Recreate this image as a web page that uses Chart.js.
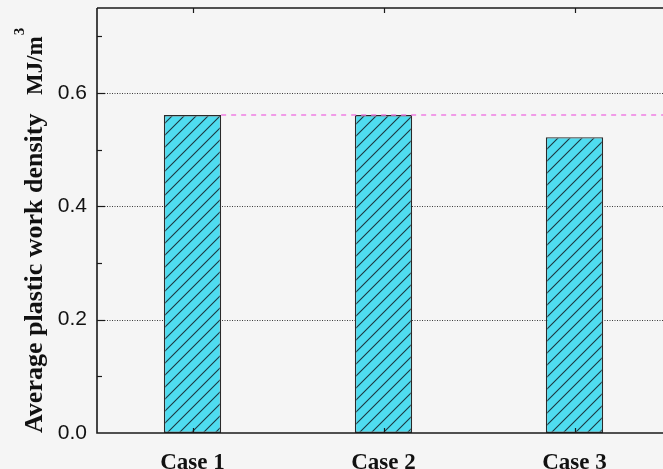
<!DOCTYPE html>
<html>
<head>
<meta charset="utf-8">
<script src="https://cdn.jsdelivr.net/npm/chart.js@4/dist/chart.umd.min.js"></script>
<style>
  html, body { margin: 0; padding: 0; background: #f5f5f5; overflow: hidden; width: 663px; height: 469px; }
  #wrap { width: 663px; height: 469px; overflow: hidden; position: relative; }
  canvas { display: block; }
</style>
</head>
<body>
<div id="wrap"><canvas id="c" width="672" height="469"></canvas></div>
<script>
// ---- data ----
const categories = ['Case 1', 'Case 2', 'Case 3'];
const values = [0.561, 0.561, 0.522];
const yTickValues = [0, 0.1, 0.2, 0.3, 0.4, 0.5, 0.6, 0.7];
const yLabelValues = [0, 0.2, 0.4, 0.6];
const yTitle = 'Average plastic work density';
const yUnit = 'MJ/m';
const yUnitSup = '3';
const refLineValue = values[0];

// hatch pattern
function makeHatch() {
  const s = 12;
  const p = document.createElement('canvas');
  p.width = s; p.height = s;
  const g = p.getContext('2d');
  g.fillStyle = '#4fdcf0';
  g.fillRect(0, 0, s, s);
  g.strokeStyle = '#1c3640';
  g.lineWidth = 1.1;
  g.beginPath();
  g.moveTo(-1, s + 1); g.lineTo(s + 1, -1);
  g.moveTo(-1, 1); g.lineTo(1, -1);
  g.moveTo(s - 1, s + 1); g.lineTo(s + 1, s - 1);
  g.stroke();
  return g.createPattern(p, 'repeat');
}

const frame = {
  id: 'frame',
  beforeDraw(chart) {
    const { ctx } = chart;
    ctx.save();
    ctx.fillStyle = '#f5f5f5';
    ctx.fillRect(0, 0, chart.width, chart.height);
    ctx.restore();
  },
  beforeDatasetsDraw(chart) {
    const { ctx, chartArea: a, scales: { y } } = chart;
    ctx.save();
    ctx.strokeStyle = '#3a3a3a';
    ctx.lineWidth = 1;
    ctx.setLineDash([1, 1.5]);
    yLabelValues.forEach(v => {
      if (v === 0) return;
      const py = Math.round(y.getPixelForValue(v)) + 0.5;
      ctx.beginPath(); ctx.moveTo(a.left, py); ctx.lineTo(a.right, py); ctx.stroke();
    });
    ctx.restore();
  },
  afterDatasetsDraw(chart) {
    const { ctx, chartArea: a, scales: { x, y } } = chart;
    ctx.save();
    const bar0 = chart.getDatasetMeta(0).data[0];
    const ry = y.getPixelForValue(refLineValue);
    ctx.strokeStyle = '#f07ee4';
    ctx.lineWidth = 1.5;
    ctx.setLineDash([5, 5]);
    ctx.beginPath();
    ctx.moveTo(bar0.x + bar0.width / 2, ry); ctx.lineTo(a.right, ry);
    ctx.stroke();
    ctx.setLineDash([]);

    ctx.strokeStyle = '#1a1a1a';
    ctx.lineWidth = 1.6;
    ctx.beginPath();
    ctx.moveTo(a.left, a.top); ctx.lineTo(a.right + 2, a.top);
    ctx.moveTo(a.left, a.top); ctx.lineTo(a.left, a.bottom);
    ctx.lineTo(a.right + 2, a.bottom);
    ctx.stroke();

    ctx.lineWidth = 1.2;
    yTickValues.forEach(v => {
      if (v === 0) return;
      const py = Math.round(y.getPixelForValue(v)) + 0.5;
      const major = yLabelValues.includes(v);
      ctx.beginPath(); ctx.moveTo(a.left, py); ctx.lineTo(a.left + (major ? 8 : 5), py); ctx.stroke();
    });
    categories.forEach((c, i) => {
      const px = Math.round(x.getPixelForValue(i)) + 0.5;
      ctx.beginPath();
      ctx.moveTo(px, a.bottom); ctx.lineTo(px, a.bottom - 5);
      ctx.moveTo(px, a.top); ctx.lineTo(px, a.top + 5);
      ctx.stroke();
    });

    ctx.fillStyle = '#111';
    ctx.translate(42, 433);
    ctx.rotate(-Math.PI / 2);
    ctx.textBaseline = 'alphabetic';
    ctx.textAlign = 'left';
    ctx.font = 'bold 26px "Liberation Serif", "Times New Roman", serif';
    ctx.fillText(yTitle, 0, 0);
    ctx.font = 'bold 23px "Liberation Serif", "Times New Roman", serif';
    const ux = 338;
    ctx.fillText(yUnit, ux, 0);
    const uw = ctx.measureText(yUnit).width;
    ctx.font = 'bold 15px "Liberation Serif", "Times New Roman", serif';
    ctx.fillText(yUnitSup, ux + uw + 1, -18);
    ctx.restore();
  }
};

const ctx = document.getElementById('c').getContext('2d');
new Chart(ctx, {
  type: 'bar',
  data: {
    labels: categories,
    datasets: [{
      data: values,
      backgroundColor: makeHatch(),
      borderColor: '#2a2a2a',
      borderWidth: 1.4,
      borderSkipped: false,
      categoryPercentage: 1,
      barPercentage: 0.3
    }]
  },
  options: {
    responsive: false,
    animation: false,
    devicePixelRatio: 1,
    layout: { padding: { top: 8, right: 2, left: 0, bottom: 0 } },
    plugins: { legend: { display: false }, tooltip: { enabled: false } },
    scales: {
      x: {
        type: 'category',
        offset: true,
        grid: { display: false, drawTicks: false },
        border: { display: false },
        ticks: {
          padding: 16,
          color: '#111',
          font: { family: '"Liberation Serif", "Times New Roman", serif', size: 23, weight: 'bold' },
          maxRotation: 0
        },
        afterFit(s) { s.height = 36; s.paddingLeft = 0; s.paddingRight = 0; }
      },
      y: {
        min: 0,
        max: 0.75,
        grid: { display: false, drawTicks: false },
        border: { display: false },
        afterBuildTicks(s) { s.ticks = yTickValues.map(v => ({ value: v })); },
        ticks: {
          padding: 10,
          color: '#111',
          font: { family: '"Liberation Sans", Arial, sans-serif', size: 21 },
          callback(v) { return yLabelValues.includes(Math.round(v * 10) / 10) ? v.toFixed(1) : ''; }
        },
        afterFit(s) { s.width = 97; s.paddingTop = 0; s.paddingBottom = 0; }
      }
    }
  },
  plugins: [frame]
});
</script>
</body>
</html>
